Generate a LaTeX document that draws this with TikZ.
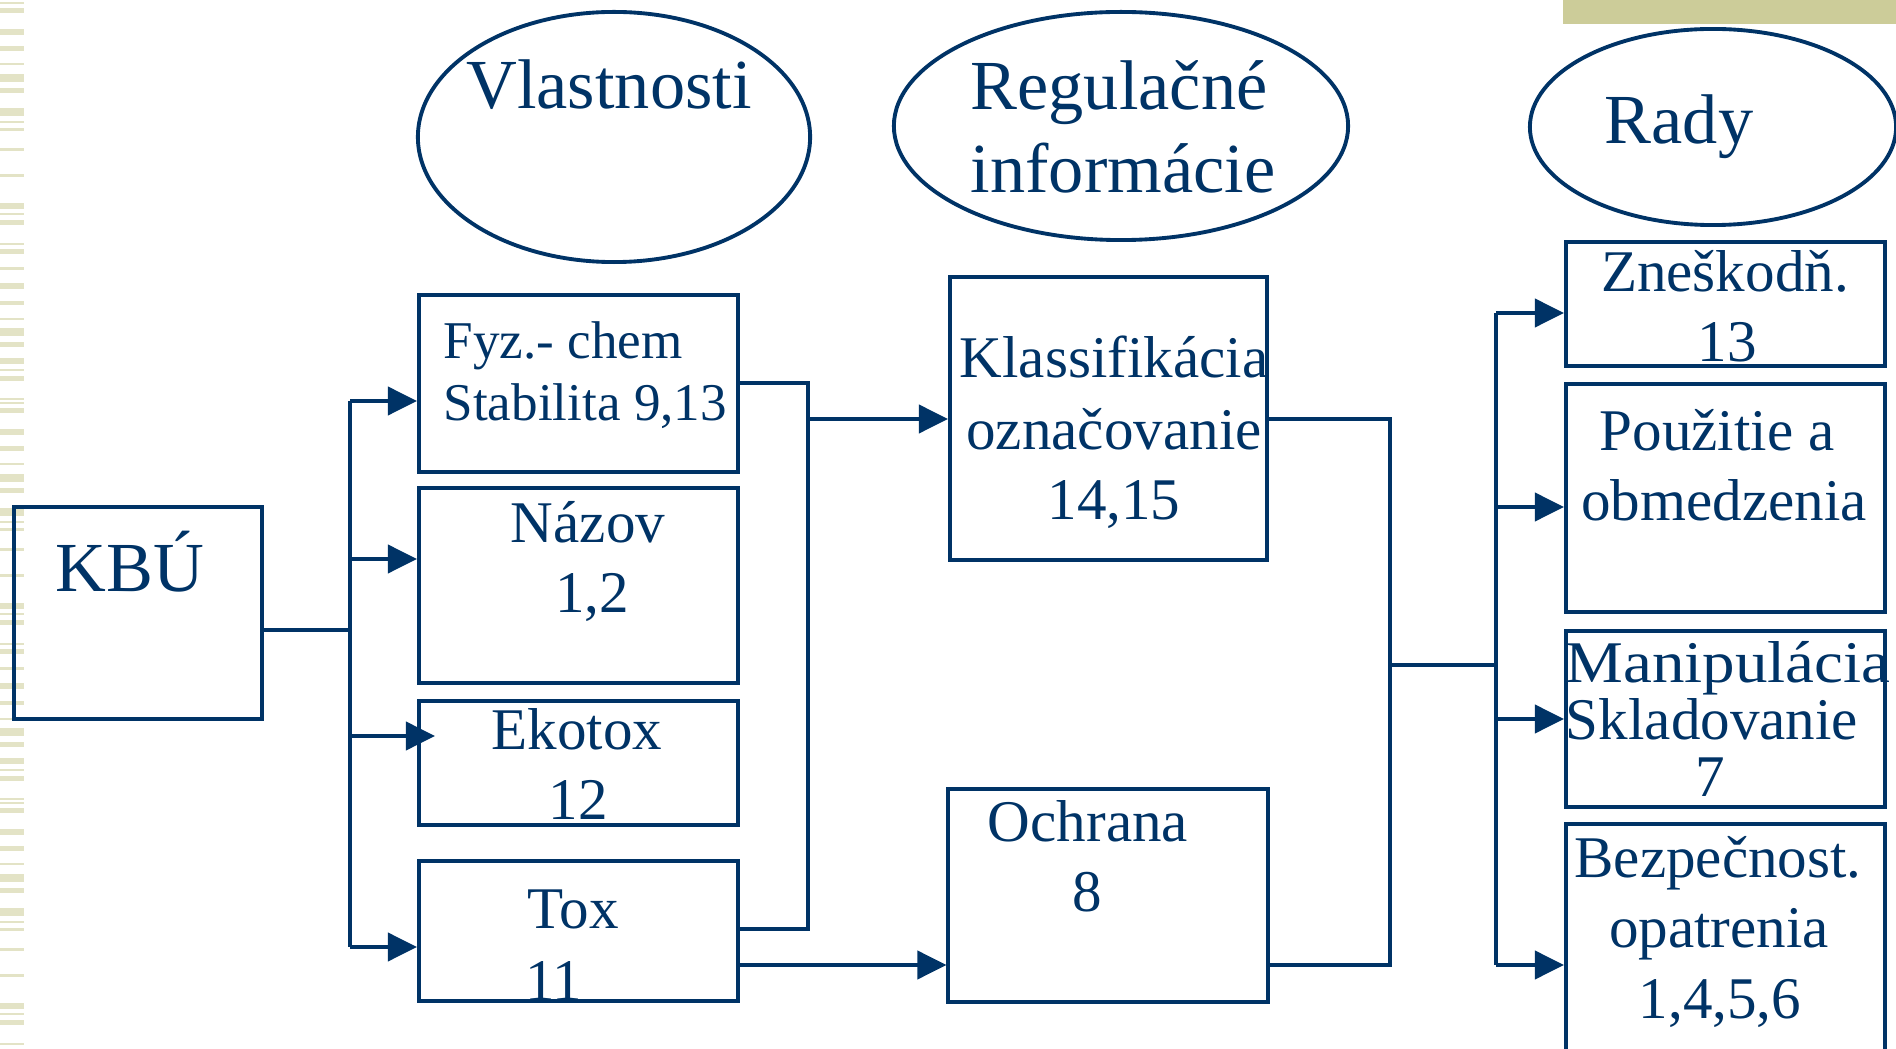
\documentclass[tikz,border=0pt]{standalone}
\usepackage{fontspec}
\setmainfont{Liberation Serif}
\usepackage{xcolor}
\definecolor{navy}{HTML}{003366}
\definecolor{khaki}{HTML}{CCCC99}
\definecolor{stripe}{HTML}{E3E3C6}
\usetikzlibrary{shapes.geometric,arrows.meta}

\begin{document}
\begin{tikzpicture}[x=0.01cm, y=-0.01cm,
    box/.style={rectangle, draw=navy, line width=1.1pt, minimum width=3.19cm, inner sep=0pt},
    oval/.style={ellipse, draw=navy, line width=1.1pt, inner sep=0pt},
    txt/.style={inner sep=0pt, anchor=base, text=navy, font=\fontsize{16.8}{20}\selectfont},
    smalltxt/.style={txt, anchor=base west, font=\fontsize{15.1}{18}\selectfont},
    bigtxt/.style={txt, font=\fontsize{20}{24}\selectfont},
    link/.style={draw=navy, line width=1.1pt},
    arr/.style={link, -{Triangle[length=0.29cm, width=0.28cm]}}]
    \useasboundingbox (0,0) rectangle (1896,1049);

    % slide decoration
    \fill[khaki] (1563,0) rectangle (1896,24);
    \foreach \o in {0,400,800}
        \foreach \y/\h in {2/2, 8/5, 29/6, 46/5, 63/2, 74/8, 88/5, 108/8, 121/2, 128/3,
                           148/3, 174/3, 203/6, 213/2, 220/5, 243/2, 249/5, 267/3, 283/6,
                           301/4, 318/2, 328/8, 342/5, 358/6, 369/2, 376/5, 398/2}
            \fill[stripe] (0,\y+\o) rectangle (24,\y+\o+\h);

    % headings
    \node[oval, minimum width=3.92cm, minimum height=2.50cm] (vl) at (614,137) {};
    \node[oval, minimum width=4.54cm, minimum height=2.28cm] (reg) at (1121,126) {};
    \node[oval, minimum width=3.66cm, minimum height=1.96cm] (rady) at (1713,127) {};
    \node[bigtxt] (vl-t) at (609,109) {Vlastnosti};
    \node[bigtxt] (reg-t1) at (1119,110) {Regulačné};
    \node[bigtxt] (reg-t2) at (1123,193) {informácie};
    \node[bigtxt] (rady-t) at (1679,144) {Rady};

    % boxes
    \node[box, minimum width=2.48cm, minimum height=2.12cm] (kbu) at (138,613) {};
    \node[box, minimum height=1.77cm] (fyz) at (578.5,383.5) {};
    \node[box, minimum height=1.95cm] (nazov) at (578.5,585.5) {};
    \node[box, minimum height=1.24cm] (ekotox) at (578.5,763) {};
    \node[box, minimum height=1.40cm] (tox) at (578.5,931) {};
    \node[box, minimum width=3.17cm, minimum height=2.83cm] (klas) at (1108.5,418.5) {};
    \node[box, minimum height=2.13cm] (ochrana) at (1108,895.5) {};
    \node[box, minimum height=1.24cm] (znes) at (1725.5,304) {};
    \node[box, minimum height=2.28cm] (pouz) at (1725.5,498) {};
    \node[box, minimum height=1.76cm] (manip) at (1725.5,719) {};
    \node[box, minimum height=2.46cm] (bezp) at (1725.5,947) {};

    % box texts
    \node[bigtxt] (kbu-t) at (130,592) {KBÚ};
    \node[smalltxt] (fyz-t1) at (443,359) {Fyz.- chem};
    \node[smalltxt] (fyz-t2) at (443,421) {Stabilita 9,13};
    \node[txt] (nazov-t1) at (588,543) {Názov};
    \node[txt] (nazov-t2) at (592,613) {1,2};
    \node[txt] (ekotox-t1) at (577,750) {Ekotox};
    \node[txt] (ekotox-t2) at (578,820) {12};
    \node[txt] (tox-t1) at (573,929) {Tox};
    \node[txt] (tox-t2) at (554,1000) {11};
    \node[txt] (klas-t1) at (1114,378) {Klassifikácia};
    \node[txt] (klas-t2) at (1114,450) {označovanie};
    \node[txt] (klas-t3) at (1114,520) {14,15};
    \node[txt] (ochrana-t1) at (1088,842) {Ochrana};
    \node[txt] (ochrana-t2) at (1087,912) {8};
    \node[txt] (znes-t1) at (1725,292) {Zneškodň.};
    \node[txt] (znes-t2) at (1727,362) {13};
    \node[txt] (pouz-t1) at (1717,451) {Použitie a};
    \node[txt] (pouz-t2) at (1724,521) {obmedzenia};
    \node[txt] (manip-t1) at (1728,683) {\scalebox{1.1}[1]{Manipulácia}};
    \node[txt] (manip-t2) at (1712,739) {Skladovanie};
    \node[txt] (manip-t3) at (1710,797) {7};
    \node[txt] (bezp-t1) at (1718,877) {Bezpečnost.};
    \node[txt] (bezp-t2) at (1719,947) {opatrenia};
    \node[txt] (bezp-t3) at (1720,1018) {1,4,5,6};

    % branch points
    \coordinate (j1) at (350,630);
    \coordinate (a1) at (350,401);
    \coordinate (a2) at (350,559);
    \coordinate (a3) at (350,736);
    \coordinate (a4) at (350,947);
    \coordinate (m1) at (808,383);
    \coordinate (m2) at (808,929);
    \coordinate (m3) at (808,419);
    \coordinate (m4) at (808,965);
    \coordinate (r1) at (1390,419);
    \coordinate (r2) at (1390,965);
    \coordinate (r3) at (1390,665);
    \coordinate (s0) at (1496,665);
    \coordinate (s1) at (1496,313);
    \coordinate (s2) at (1496,507);
    \coordinate (s3) at (1496,719);
    \coordinate (s4) at (1496,965);

    % KBU -> properties
    \draw[link] (kbu.east |- j1) -- (j1);
    \draw[link] (a1) -- (a4);
    \draw[arr] (a1) -- (a1 -| fyz.west);
    \draw[arr] (a2) -- (a2 -| nazov.west);
    \draw[arr] (a3) -- ([xshift=0.18cm]a3 -| ekotox.west);
    \draw[arr] (a4) -- (a4 -| tox.west);

    % properties -> regulatory info
    \draw[link] (fyz.east |- m1) -- (m1) -- (m2) -- (tox.east |- m2);
    \draw[arr] (m3) -- (m3 -| klas.west);
    \draw[arr] (tox.east |- m4) -- (ochrana.west |- m4);

    % regulatory info -> advice
    \draw[link] (klas.east |- r1) -- (r1) -- (r2) -- (ochrana.east |- r2);
    \draw[link] (r3) -- (s0);
    \draw[link] (s1) -- (s4);
    \draw[arr] (s1) -- (s1 -| znes.west);
    \draw[arr] (s2) -- (s2 -| pouz.west);
    \draw[arr] (s3) -- (s3 -| manip.west);
    \draw[arr] (s4) -- (s4 -| bezp.west);
\end{tikzpicture}
\end{document}
